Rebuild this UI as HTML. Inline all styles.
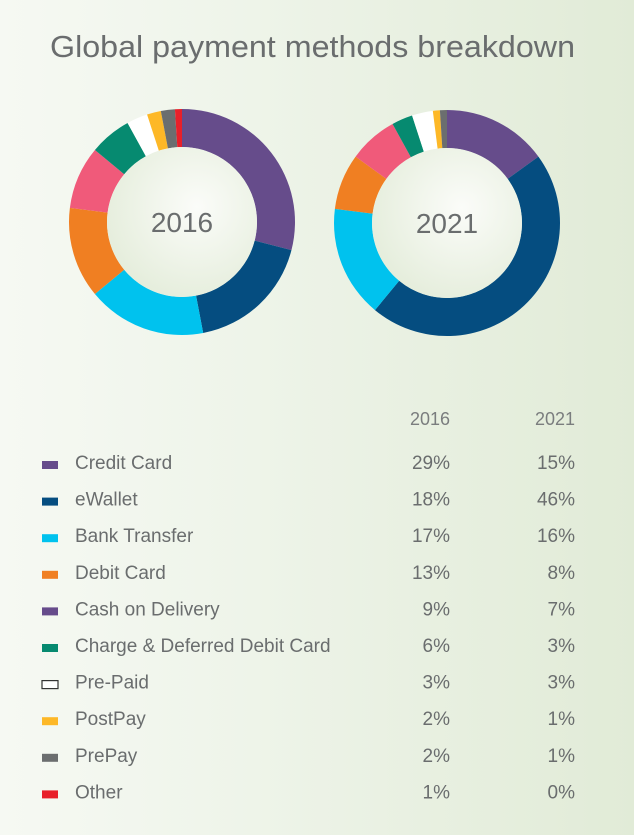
<!DOCTYPE html>
<html><head><meta charset="utf-8"><style>
html,body{margin:0;padding:0;}
body{width:634px;height:835px;overflow:hidden;background:linear-gradient(90deg,#f6f9f3 0%,#eef4e9 40%,#e1ebd7 100%);font-family:"Liberation Sans",sans-serif;}
svg{display:block;}
</style></head><body>
<svg id="chart" width="634" height="835" xmlns="http://www.w3.org/2000/svg">
<defs>
<radialGradient id="hole" cx="0.6" cy="0.4" r="0.7">
<stop offset="0" stop-color="#fbfcf9"/><stop offset="1" stop-color="#e3ecd9"/>
</radialGradient>
</defs>
<text x="50" y="57" font-size="31" font-weight="300" fill="#6a6d6e" textLength="525" lengthAdjust="spacingAndGlyphs">Global payment methods breakdown</text>
<g id="donuts"></g>
<g id="table"></g>
</svg>
<script>
const categories=["Credit Card","eWallet","Bank Transfer","Debit Card","Cash on Delivery","Charge & Deferred Debit Card","Pre-Paid","PostPay","PrePay","Other"];
const values2016=[29,18,17,13,9,6,3,2,2,1];
const values2021=[15,46,16,8,7,3,3,1,1,0];
const years=["2016","2021"];
const sliceColors=["#664c8b","#054d80","#00c2ee","#f07f22","#f05a7a","#068a70","#ffffff","#fdb827","#6b6e6f","#e8202a"];
const legendColors=["#664c8b","#054d80","#00c2ee","#f07f22","#664c8b","#068a70","#ffffff","#fdb827","#6b6e6f","#e8202a"];
const NS="http://www.w3.org/2000/svg";
function mk(t,a,p){const e=document.createElementNS(NS,t);for(const k in a)e.setAttribute(k,a[k]);p.appendChild(e);return e;}
function angle(cum,total){return cum/total*2*Math.PI;}
function pt(cx,cy,r,a){return [cx+r*Math.sin(a),cy-r*Math.cos(a)];}
const donutG=document.getElementById('donuts');
function donut(vals,cx,cy,R,r,label){
  const total=vals.reduce((a,b)=>a+b,0);let cum=0;
  vals.forEach((v,i)=>{
    if(v<=0){cum+=v;return;}
    const a0=angle(cum,total),a1=angle(cum+v,total);cum+=v;
    const large=(a1-a0)>Math.PI?1:0;
    const [x0,y0]=pt(cx,cy,R,a0),[x1,y1]=pt(cx,cy,R,a1),[x2,y2]=pt(cx,cy,r,a1),[x3,y3]=pt(cx,cy,r,a0);
    const p=mk('path',{d:`M${x0},${y0}A${R},${R} 0 ${large} 1 ${x1},${y1}L${x2},${y2}A${r},${r} 0 ${large} 0 ${x3},${y3}Z`,fill:sliceColors[i]},donutG);
    
    
  });
  const h=mk('circle',{cx:cx,cy:cy,r:r,fill:'url(#hole)'},donutG);
  
  
  const t=mk('text',{x:cx,y:cy+10,'text-anchor':'middle','font-size':'28',fill:'#6a6d6e'},donutG);
  t.textContent=label;
  
  
}
donut(values2016,182,222,113,75,years[0]);
donut(values2021,447,223,113,75,years[1]);
const tb=document.getElementById('table');
const h1=mk('text',{x:450,y:425,'text-anchor':'end','font-size':'18',fill:'#7a7d7e'},tb);h1.textContent=years[0];


const h2=mk('text',{x:575,y:425,'text-anchor':'end','font-size':'18',fill:'#7a7d7e'},tb);h2.textContent=years[1];


categories.forEach((c,i)=>{
  const y=462+i*36.6;
  const slug=c.toLowerCase().replace(/[^a-z]+/g,'-');
  const sw=mk('rect',{x:42,y:y-1,width:16,height:8,fill:legendColors[i],stroke:i===6?'#333':'none','stroke-width':i===6?1.2:0},tb);
  
  
  const l=mk('text',{x:75,y:y+7,'font-size':'19',fill:'#6a6d6e'},tb);l.textContent=c;
  
  
  const a=mk('text',{x:450,y:y+7,'text-anchor':'end','font-size':'19',fill:'#6a6d6e'},tb);a.textContent=values2016[i]+'%';
  
  
  const b=mk('text',{x:575,y:y+7,'text-anchor':'end','font-size':'19',fill:'#6a6d6e'},tb);b.textContent=values2021[i]+'%';
  
  
});
</script>
</body></html>
